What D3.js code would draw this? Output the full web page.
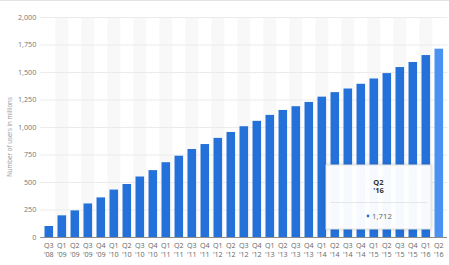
<!DOCTYPE html>
<html lang="en">
<head>
<meta charset="utf-8">
<title>Facebook users</title>
<script src="https://d3js.org/d3.v7.min.js"></script>
<style>
  body { margin: 0; background: #fff; }
  #chart1 { width: 449px; height: 265px; }
  text { font-family: "Open Sans", sans-serif; }
</style>
</head>
<body>
<div id="chart1"></div>
<script>
    // quarters, two-line labels
    const quarters = ["Q3","Q1","Q2","Q3","Q4","Q1","Q2","Q3","Q4","Q1","Q2","Q3","Q4","Q1","Q2","Q3",
                      "Q4","Q1","Q2","Q3","Q4","Q1","Q2","Q3","Q4","Q1","Q2","Q3","Q4","Q1","Q2"]
    const years = ["'08","'09","'09","'09","'09","'10","'10","'10","'10","'11","'11","'11","'11","'12","'12","'12",
                   "'12","'13","'13","'13","'13","'14","'14","'14","'14","'15","'15","'15","'15","'16","'16"]
    // monthly active users in millions
    const users = [100,197,242,305,360,431,482,550,608,680,739,800,845,901,955,1007,
                   1056,1110,1155,1189,1228,1276,1317,1350,1393,1441,1490,1545,1591,1654,1712]
    const yTicks = [0,250,500,750,1000,1250,1500,1750,2000]

    const W = 449, H = 265
    const margin = {top: 17, right: 3.7, bottom: 28, left: 42.3}

    const svg = d3.select("#chart1").append("svg")
        .attr("width", W).attr("height", H)

    const labels = quarters.map((q, i) => q + " " + years[i])

    const x = d3.scaleBand()
        .domain(labels)
        .range([margin.left, W - margin.right])
        .paddingInner(0.34)
        .paddingOuter(0.17)

    const y = d3.scaleLinear()
        .domain([0, 2000])
        .range([H - margin.bottom, margin.top])

    // top border
    svg.append("line")
        .attr("x1", 0).attr("x2", W).attr("y1", 0.5).attr("y2", 0.5)
        .attr("stroke", "#e3e3e3")

    // alternating column stripes
    svg.selectAll(".stripe")
        .data(labels.filter((d, i) => i % 2 === 1))
        .enter().append("rect")
        .attr("class", "stripe")
        .attr("x", d => x(d) - x.step() * x.paddingInner() / 2)
        .attr("width", x.step())
        .attr("y", y(2000))
        .attr("height", y(0) - y(2000))
        .attr("fill", "#f8f8f8")

    // gridlines + y labels
    const yAxis = svg.append("g")
        .attr("transform", "translate(" + (margin.left - 2) + ",0)")
        .call(d3.axisLeft(y)
            .tickValues(yTicks)
            .tickSize(-(W - margin.left - margin.right + 4))
            .tickPadding(4)
            .tickFormat(d3.format(",")))
    yAxis.select(".domain").remove()
    yAxis.selectAll(".tick line").attr("stroke", "#ebebeb")
    yAxis.selectAll(".tick text")
        .attr("fill", "#777")
        .style("font-size", "7.2px")

    // bars
    svg.selectAll(".bar")
        .data(users)
        .enter().append("rect")
        .attr("class", "bar")
        .attr("x", (d, i) => x(labels[i]))
        .attr("width", x.bandwidth())
        .attr("y", d => y(d))
        .attr("height", d => y(0) - y(d))
        .attr("fill", (d, i) => i === users.length - 1 ? "#4a92f2" : "#2471d9")

    // baseline
    svg.append("line")
        .attr("x1", margin.left - 2).attr("x2", W - 2)
        .attr("y1", y(0) + 0.5).attr("y2", y(0) + 0.5)
        .attr("stroke", "#8c8c8c")

    // x labels
    const xl = svg.selectAll(".xlab")
        .data(labels)
        .enter().append("text")
        .attr("class", "xlab")
        .attr("text-anchor", "middle")
        .attr("fill", "#666")
        .style("font-size", "7.2px")
        .attr("transform", d => "translate(" + (x(d) + x.bandwidth() / 2) + "," + (y(0) + 11) + ")")
    xl.append("tspan").attr("x", 0).attr("dy", 0).text((d, i) => quarters[i])
    xl.append("tspan").attr("x", 0).attr("dy", 8.5).text((d, i) => years[i])

    // y title
    svg.append("text")
        .attr("transform", "translate(12," + (y(1000) + 10) + ") rotate(-90)")
        .attr("text-anchor", "middle")
        .attr("fill", "#999")
        .style("font-size", "6.2px")
        .text("Number of users in millions")

    // tooltip for the last bar
    const last = users.length - 1
    const tip = svg.append("g").attr("transform", "translate(326,165)")
    tip.append("rect")
        .attr("x", 0).attr("y", 0).attr("width", 105).attr("height", 64)
        .attr("fill", "rgba(255,255,255,0.96)")
        .attr("stroke", "#e2e2e2")
        .style("filter", "drop-shadow(0 0 2px rgba(0,0,0,0.15))")
    tip.append("text")
        .attr("x", 52.5).attr("y", 19.5)
        .attr("text-anchor", "middle")
        .attr("fill", "#333")
        .style("font-size", "7.5px").style("font-weight", "bold")
        .text(quarters[last])
    tip.append("text")
        .attr("x", 52.5).attr("y", 28)
        .attr("text-anchor", "middle")
        .attr("fill", "#333")
        .style("font-size", "7.5px").style("font-weight", "bold")
        .text(years[last])
    tip.append("line")
        .attr("x1", 4).attr("x2", 101).attr("y1", 37.5).attr("y2", 37.5)
        .attr("stroke", "#e6e6e6")
    tip.append("circle")
        .attr("cx", 42).attr("cy", 51).attr("r", 1.4)
        .attr("fill", "#2471d9")
    tip.append("text")
        .attr("x", 46).attr("y", 54)
        .attr("fill", "#666")
        .style("font-size", "7.8px")
        .text(d3.format(",")(users[last]))
</script>
</body>
</html>
